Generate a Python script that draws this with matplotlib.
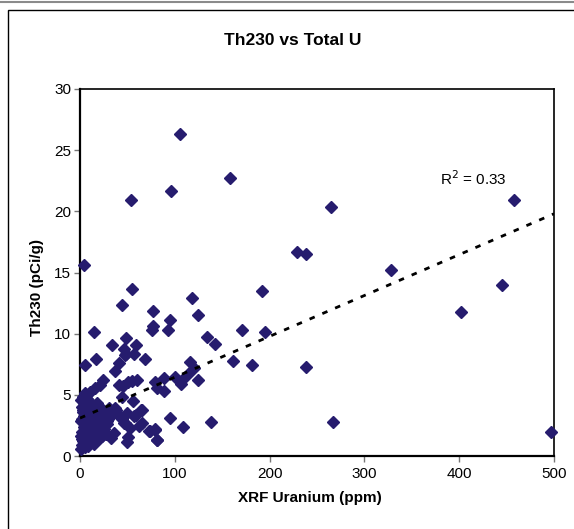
import matplotlib
matplotlib.use("Agg")
import matplotlib.pyplot as plt
from matplotlib.lines import Line2D
from matplotlib.patches import Rectangle

plt.rcParams['font.family'] = ['Liberation Sans', 'DejaVu Sans']

# ---- data ----
# scattered points (XRF Uranium ppm, Th230 pCi/g)
outer_u = [105.5, 95.7, 53.5, 158.2, 4.2, 54.5, 192.0, 264.4, 228.6, 238.4,
           327.7, 457.8, 444.8, 402.2, 496.5, 267.2, 238.4, 181.8, 194.8, 118.4,
           76.6, 124.8, 94.6, 76.6, 75.5, 92.5, 170.9, 134.3, 142.7, 161.0,
           116.4, 120.6, 113.9, 124.8, 78.8, 88.3, 81.2, 88.6, 100.5, 107.9,
           106.5, 94.6, 78.8, 73.8, 80.9, 109.0, 137.9, 44.0, 15.1, 48.5,
           34.1, 59.4, 46.0, 48.5, 47.5, 57.3, 68.1, 17.2, 5.3, 41.1,
           36.6, 24.6, 21.1, 15.8, 10.5, 5.3, 3.5, 7.0, 41.1, 45.7,
           51.0, 54.5, 59.8, 43.9, 56.2, 36.9, 18.6, 30.9, 24.6, 65.0,
           42.9, 49.9, 58.7, 46.4, 52.7, 62.6, 65.0, 72.8, 79.1, 81.6,
           32.3, 36.2, 51.0, 49.2, 25.6, 38.0, 64.3, 44.0, 47.5, 57.0]
outer_th = [26.3, 21.7, 20.9, 22.7, 15.6, 13.65, 13.5, 20.35, 16.65, 16.5,
            15.2, 20.9, 14.0, 11.75, 1.99, 2.8, 7.28, 7.47, 10.1, 12.9,
            11.85, 11.5, 11.1, 10.6, 10.3, 10.27, 10.27, 9.73, 9.18, 7.77,
            7.68, 7.22, 6.73, 6.19, 6.02, 6.38, 5.53, 5.34, 6.46, 6.19,
            5.91, 3.13, 2.15, 2.07, 1.33, 2.37, 2.8, 12.34, 10.16, 9.62,
            9.07, 9.1, 8.77, 8.34, 8.23, 8.34, 7.96, 7.96, 7.47, 7.6,
            6.98, 6.21, 5.8, 5.53, 5.26, 5.13, 4.8, 4.17, 5.8, 5.72,
            6.07, 6.13, 6.21, 4.85, 4.5, 3.9, 4.17, 3.95, 3.7, 3.76,
            3.19, 3.54, 3.35, 2.73, 2.26, 2.48, 2.73, 2.07, 2.18, 1.31,
            1.44, 1.9, 1.58, 1.17, 3.35, 3.76, 3.76, 3.0, 2.67, 3.3]

# dense cluster near the origin
cluster_u = [1, 2, 3, 1.5, 2.5, 4, 5, 6, 3, 2, 1, 4, 7, 8, 9, 10, 6, 5, 8, 12,
             11, 14, 13, 15, 16, 18, 17, 20, 19, 22, 21, 24, 23, 26, 25, 28, 27, 30, 29, 32,
             3, 5, 7, 9, 11, 13, 15, 17, 19, 21, 23, 25, 2, 4, 6, 8, 10, 12, 14, 16,
             18, 20, 1, 3, 5, 7, 9, 11, 2, 4]
cluster_th = [0.6, 0.9, 1.2, 1.6, 2.0, 2.4, 2.8, 3.2, 3.6, 4.0, 2.9, 4.3, 1.1, 0.8, 1.5, 1.9, 3.9, 0.7, 2.6, 3.0,
              1.3, 2.2, 3.4, 1.0, 2.8, 1.7, 3.7, 2.4, 1.4, 3.1, 2.0, 2.7, 1.6, 3.3, 2.2, 2.9, 1.8, 3.5, 2.6, 3.2,
              3.8, 3.5, 2.1, 3.3, 2.6, 1.8, 3.0, 2.3, 3.6, 1.5, 2.5, 1.9, 1.4, 1.9, 1.3, 2.2, 3.8, 2.7, 4.1, 2.0,
              4.3, 2.9, 4.6, 4.8, 4.4, 4.7, 4.5, 4.2, 3.0, 3.3]

# linear trend line endpoints
trend_u = [0, 500]
trend_th = [3.1, 19.8]
r2_label = "R$^2$ = 0.33"

title = "Th230 vs Total U"
xlabel = "XRF Uranium (ppm)"
ylabel = "Th230 (pCi/g)"
xticks = [0, 100, 200, 300, 400, 500]
yticks = [0, 5, 10, 15, 20, 25, 30]

# ---- figure ----
W, H = 574, 529
fig = plt.figure(figsize=(W / 100, H / 100), dpi=100)
ax = fig.add_axes([80 / W, 1 - 456 / H, (554 - 80) / W, (456 - 89) / H])

# frame lines of the picture
fig.add_artist(Line2D([0, 1], [1 - 2 / H, 1 - 2 / H], color='#8a8a8a', lw=1.5,
                      transform=fig.transFigure))
fig.add_artist(Rectangle((8 / W, -0.05), 1.1, 1 - 10 / H + 0.05, fill=False,
                         edgecolor='black', lw=1.0, transform=fig.transFigure))

mcol = '#261C6E'
ax.plot(cluster_u, cluster_th, linestyle='none', marker='D', ms=5.7, color=mcol,
        clip_on=False, zorder=3)
ax.plot(outer_u, outer_th, linestyle='none', marker='D', ms=5.7, color=mcol,
        clip_on=False, zorder=3)
ax.plot(trend_u, trend_th, color='black', lw=2.0, linestyle=(0, (2, 3)), zorder=4)

ax.text(380, 22.7, r2_label, fontsize=11, va='center', ha='left')

ax.set_xlim(0, 500)
ax.set_ylim(0, 30)
ax.set_xticks(xticks)
ax.set_yticks(yticks)
ax.tick_params(axis='both', direction='out', length=4, width=1, color='#777777',
               labelsize=11)
ax.tick_params(axis='y', pad=2.5)
ax.tick_params(axis='x', pad=4)
for s in ax.spines.values():
    s.set_color('black')
    s.set_linewidth(1.2)
ax.spines['left'].set_linewidth(1.6)
ax.spines['bottom'].set_linewidth(1.6)

ax.set_xlabel(xlabel, fontsize=11, fontweight='bold')
ax.set_ylabel(ylabel, fontsize=11, fontweight='bold')
ax.xaxis.set_label_coords((310 - 80) / 474, -(491 - 456) / 367)
ax.yaxis.set_label_coords(-(80 - 44) / 474, (456 - 288) / 367)
fig.text(293 / W, 1 - 40 / H, title, fontsize=12.5, fontweight='bold',
         ha='center', va='center')

fig.savefig('out.png', dpi=100)
